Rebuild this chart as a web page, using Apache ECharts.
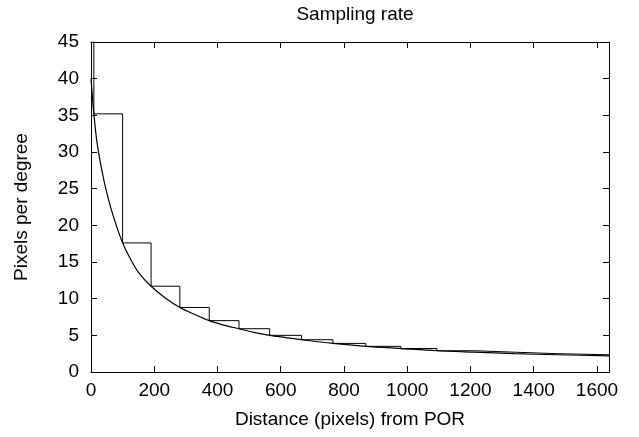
<!DOCTYPE html>
<html>
<head>
<meta charset="utf-8">
<script src="https://cdn.jsdelivr.net/npm/echarts@6/dist/echarts.min.js"></script>
<style>
  html, body { margin: 0; padding: 0; background: #fff; }
  #chart { width: 639px; height: 437px; }
</style>
</head>
<body>
<div id="chart"></div>
<script>
// step edges (left edge of each bin) and heights
const stepX = [0, 9, 100, 190, 281, 374, 468, 565, 666, 765, 869, 980, 1094, 1213, 1339, 1473, 1638];
const stepY = [80, 35.2, 17.6, 11.7, 8.8, 7.0, 5.9, 5.0, 4.4, 3.9, 3.5, 3.2, 2.9, 2.7, 2.5, 2.35, 2.35];

// smooth curve
const curveX = [0, 9, 20, 40, 60, 80, 100, 125, 150, 190, 235, 281, 330, 374, 420, 468, 515, 565, 615, 666, 765, 869, 980, 1094, 1213, 1339, 1473, 1638];
const curveY = [40, 35.2, 31.0, 26.3, 22.8, 20.0, 17.6, 15.4, 13.6, 11.7, 10.1, 8.8, 7.8, 7.0, 6.4, 5.9, 5.4, 5.0, 4.7, 4.4, 3.9, 3.5, 3.2, 2.9, 2.7, 2.5, 2.35, 2.2];

const xMax = 1638;
const font = 'Liberation Sans';

const chart = echarts.init(document.getElementById('chart'));

const axisCommon = {
  axisLine: { show: true, onZero: false, lineStyle: { color: '#000', width: 1 } },
  axisTick: { show: true, inside: true, length: 6, lineStyle: { color: '#000' } },
  splitLine: { show: false }
};
const lbl = { fontFamily: font, fontSize: 19, color: '#000' };

chart.setOption({
  animation: false,
  title: {
    text: 'Sampling rate',
    left: 350, top: 0, textAlign: 'center',
    textStyle: Object.assign({ fontWeight: 'normal' }, lbl)
  },
  grid: { left: 91, top: 42, right: 30, bottom: 65 },
  xAxis: [
    Object.assign({
      type: 'value', min: 0, max: xMax, interval: 200,
      name: 'Distance (pixels) from POR', nameLocation: 'middle', nameGap: 38,
      nameTextStyle: lbl,
      axisLabel: Object.assign({ margin: 9, showMaxLabel: false, formatter: v => String(v) }, lbl)
    }, axisCommon),
    Object.assign({
      type: 'value', min: 0, max: xMax, interval: 200, position: 'top',
      axisLabel: { show: false }
    }, axisCommon)
  ],
  yAxis: [
    Object.assign({
      type: 'value', min: 0, max: 45, interval: 5,
      name: 'Pixels per degree', nameLocation: 'middle', nameGap: 60,
      nameTextStyle: lbl,
      axisLabel: Object.assign({ margin: 12, formatter: v => String(v) }, lbl)
    }, axisCommon),
    Object.assign({
      type: 'value', min: 0, max: 45, interval: 5, position: 'right',
      axisLabel: { show: false }
    }, axisCommon)
  ],
  series: [
    {
      type: 'line', step: 'end', symbol: 'none', clip: true,
      data: stepX.map((x, i) => [x, stepY[i]]),
      lineStyle: { color: '#000', width: 1 }
    },
    {
      type: 'line', smooth: 0.3, symbol: 'none', clip: true,
      data: curveX.map((x, i) => [x, curveY[i]]),
      lineStyle: { color: '#000', width: 1.2 }
    }
  ]
});
</script>
</body>
</html>
